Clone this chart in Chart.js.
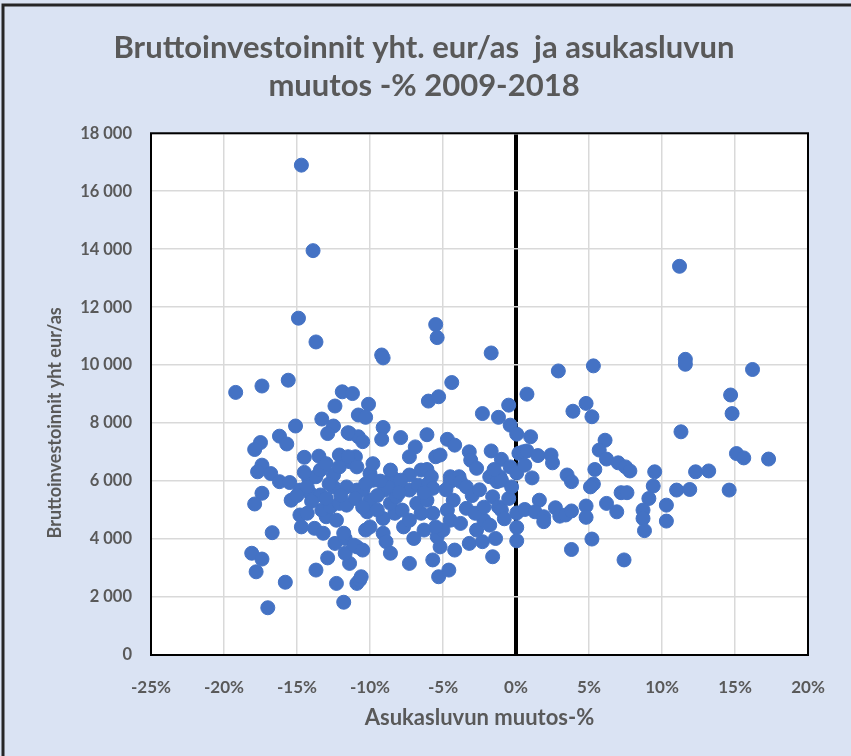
<!DOCTYPE html>
<html>
<head>
<meta charset="utf-8">
<title>Bruttoinvestoinnit</title>
<script src="https://cdn.jsdelivr.net/npm/chart.js@4.4.1/dist/chart.umd.min.js"></script>
<style>
  body { margin: 0; background: #DAE3F3; }
</style>
</head>
<body>
<canvas id="scatter" width="851" height="756"></canvas>
<script>
// asukasluvun muutos-% 2009-2018 (x) and bruttoinvestoinnit eur/as (y)
const muutos = [
  -14.7, -13.9, -13.7, -14.9, -19.2, -17.4, -15.6, -11.9, -11.2, -9.2, -9.1, -5.5, -5.4, -1.7, -4.4,
  -6.0, -5.3, -10.1, -10.8, -10.3, -2.3, -0.5, -1.2, -0.4, 0.05, -9.1, -9.2, -7.9, -6.1, -4.7,
  -4.2, -6.9, -7.3, -5.5, -5.2, -3.2, -3.1, -2.7, -1.7, -1.0, -0.4, 0.2, -11.4, -10.8, -10.5,
  -11.0, -11.4, -10.0, -8.5, -7.3, -6.5, -6.1, -5.8, -4.5, -3.9, -1.8, -1.1,
  -12.4, -13.3, -12.5, -12.9, -11.5, -15.1, -16.2, -15.7, -17.5, -17.9, -14.5, -13.5, -12.1, -11.5,
  -17.4, -17.7, -16.8, -16.2, -15.5, -14.2, -13.7, -13.4, -12.5, -12.1, -10.9,
  -17.4, -17.9, -15.4, -14.8, -14.3, -14.7, -16.7, -18.1, -17.4, -17.8, -15.8, -17.0, -13.7, -12.9,
  -12.3, -11.8, -11.4, -10.9, -12.4, -11.7, -11.7, -10.9, -13.8, -13.2, -13.0, -12.3, -13.3, -12.7,
  -12.1, -11.6, -14.1, -13.4, -14.8, -14.3, -11.6, -10.9, -12.5, -11.8,
  -1.3, -1.0, -4.5, -3.8, -3.4, -1.6, -1.2, -1.0, 0.05, 0.05, 0.05, -1.6, -3.2, -2.3, -1.4,
  -2.7, -2.2, -1.8, -3.4, -2.8, -4.3, -4.7, -4.5, -3.8, -4.2, -5.2, -5.7, -5.3, -4.6, -5.4,
  -5.0, -6.3, -5.5, -5.7, -6.5, -7.0, -7.3, -6.8, -6.1, -7.3, -6.7, -6.0, -5.7, -7.7, -7.3,
  -9.1, -8.9, -8.6, -8.3, -9.1, -8.6, -8.2, -9.0, -10.2, -10.0, -10.5, -9.8, -10.3, -10.0, -11.1,
  -10.5, -10.7, -10.6, -8.4, -7.9, -8.6,
  -14.0, -13.0, -12.0, -11.0, -10.5, -9.5, -9.5, -8.8, -9.3, -10.3, -12.8, -15.0, -14.5, -13.0,
  -9.8, -8.0, -7.8, -6.3, -4.8, -3.0, -2.2, -2.5, -0.8, -0.5, -1.5, -0.3,
  11.2, 2.9, 5.3, 11.6, 11.6, 16.2, 0.75, 3.9, 4.8, 5.2, 14.7, 14.8, 11.3, 1.0, 6.1,
  5.7, 6.2, 7.0, 7.5, 7.8, 9.5, 12.3, 13.2, 15.1, 15.6, 17.3, 0.5, 0.75, 1.5, 2.4,
  2.5, 0.05, 0.6, 1.1, 3.5, 3.8, 5.4, 5.3, 5.1, 7.2, 7.6, 9.4, 9.1, 11.0, 11.9,
  14.6, 1.6, 0.6, 1.3, 1.9, 1.9, 2.7, 3.0, 3.4, 3.8, 4.8, 4.8, 6.2, 6.9, 8.7,
  8.7, 8.8, 10.3, 10.3, 5.2, 3.8, 7.4
];
const investoinnit = [
  16900, 13950, 10800, 11620, 9060, 9280, 9480, 9080, 9020, 10350, 10250, 11400, 10950, 10420, 9400,
  8760, 8910, 8650, 8280, 8200, 8330, 8620, 8200, 7930, 7620, 7850, 7440, 7500, 7600, 7440,
  7240, 7180, 6840, 6840, 6900, 7010, 6720, 6440, 7040, 6750, 6490, 6960, 7640, 7530, 7360,
  6840, 6670, 6260, 6150, 6210, 6380, 6400, 6150, 6150, 6150, 6150, 6150,
  8590, 8140, 7900, 7640, 7670, 7900, 7550, 7280, 7330, 7090, 6820, 6860, 6900, 6840,
  6550, 6320, 6260, 5980, 5950, 6090, 6150, 6380, 6210, 6490, 6490,
  5580, 5210, 5340, 4830, 4890, 4420, 4220, 3510, 3310, 2870, 2510, 1630, 2930, 3350,
  2470, 1820, 3160, 2470, 3850, 4020, 3510, 3730, 4370, 4200, 4770, 4650, 5000, 5110,
  5230, 5170, 5580, 5520, 5690, 5800, 5800, 5690, 5800, 4200,
  5980, 6030, 5980, 5980, 5800, 5460, 5110, 5000, 4900, 4400, 3940, 3390, 3850, 3910, 4020,
  4310, 4650, 4480, 5060, 4890, 5340, 5000, 4650, 4540, 3620, 3730, 3280, 2700, 2930, 4080,
  4310, 4310, 4420, 4890, 4890, 4020, 3160, 5230, 5340, 5690, 5860, 5920, 5750, 4420, 4650,
  4200, 3910, 3510, 4890, 4710, 5230, 5460, 5690, 4940, 5340, 5690, 6030, 4310, 4420, 3790,
  3620, 2590, 2700, 5920, 6030, 6380,
  5300, 5400, 5500, 5400, 5100, 5500, 5000, 5800, 6000, 5900, 5900, 5500, 6300, 6600,
  6600, 5600, 5000, 5600, 5700, 5500, 5100, 5700, 4700, 5400, 6400, 5800,
  13410, 9800, 9975, 10200, 10030, 9850, 9000, 8410, 8680, 8220, 8970, 8330, 7700, 7530, 7410,
  7070, 6760, 6630, 6490, 6350, 6320, 6320, 6350, 6950, 6800, 6760, 7010, 7040, 6880, 6900,
  6630, 6280, 6550, 6110, 6210, 5980, 6400, 5900, 5800, 5600, 5600, 5830, 5400, 5690, 5710,
  5690, 5340, 5020, 4940, 4770, 4600, 5080, 4790, 4830, 4970, 5140, 4750, 5230, 4940, 5000,
  4710, 4290, 5170, 4620, 4000, 3640, 3280
];
const yTicks = [0, 2000, 4000, 6000, 8000, 10000, 12000, 14000, 16000, 18000];
const yTitle = 'Bruttoinvestoinnit yht eur/as';

const points = muutos.map((x, i) => ({ x: x, y: investoinnit[i] }));

const grey = '#595959';
const fontFamily = "Lato, 'Open Sans', sans-serif";

const frame = {
  id: 'frame',
  beforeDraw(chart) {
    const c = chart.ctx, a = chart.chartArea;
    c.save();
    c.fillStyle = '#DAE3F3';
    c.fillRect(0, 0, chart.width, chart.height);
    c.fillStyle = '#ffffff';
    c.fillRect(a.left, a.top, a.right - a.left, a.bottom - a.top);
    c.restore();
  },
  afterDatasetsDraw(chart) {
    const c = chart.ctx, a = chart.chartArea;
    c.save();
    c.strokeStyle = '#000';
    c.lineWidth = 2;
    c.strokeRect(a.left, a.top, a.right - a.left, a.bottom - a.top);
    c.strokeStyle = '#262626';
    c.lineWidth = 3;
    c.beginPath();
    c.moveTo(3, 756);
    c.lineTo(3, 5);
    c.lineTo(851, 5);
    c.stroke();
    // y axis title, Excel puts it a little below the middle of the plot
    c.translate(55, a.top + (a.bottom - a.top) * 0.555);
    c.rotate(-Math.PI / 2);
    c.fillStyle = grey;
    c.font = "bold 18px " + fontFamily;
    c.textAlign = 'center';
    c.textBaseline = 'middle';
    c.fillText(yTitle, 0, 0);
    c.restore();
  }
};

new Chart(document.getElementById('scatter'), {
  type: 'scatter',
  data: {
    datasets: [{
      label: 'Kunnat',
      data: points,
      backgroundColor: '#4472C4',
      borderColor: '#4472C4',
      pointRadius: 7,
      pointHoverRadius: 7
    }]
  },
  options: {
    responsive: false,
    animation: false,
    layout: { padding: { left: 40, right: 43, top: 10, bottom: 21 } },
    plugins: {
      legend: { display: false },
      tooltip: { enabled: false },
      title: {
        display: true,
        text: ['Bruttoinvestoinnit yht. eur/as  ja asukasluvun', 'muutos -% 2009-2018'],
        color: grey,
        font: { family: fontFamily, size: 31, weight: 'bold', lineHeight: 1.23 },
        padding: { top: 19, bottom: 28 }
      }
    },
    scales: {
      x: {
        type: 'linear',
        min: -25,
        max: 20,
        afterFit: (scale) => { scale.height = 80; },
        ticks: {
          stepSize: 5,
          padding: 22,
          color: grey,
          font: { family: fontFamily, size: 17, weight: 'bold' },
          callback: (v) => v + '%'
        },
        grid: {
          drawTicks: false,
          color: (ctx) => ctx.tick && ctx.tick.value === 0 ? '#000' : '#D9D9D9',
          lineWidth: (ctx) => ctx.tick && ctx.tick.value === 0 ? 4 : 1.5
        },
        border: { display: false },
        title: {
          display: true,
          text: 'Asukasluvun muutos-%',
          color: grey,
          font: { family: fontFamily, size: 22, weight: 'bold' }
        }
      },
      y: {
        min: 0,
        max: 18000,
        afterBuildTicks: (scale) => { scale.ticks = yTicks.map((v) => ({ value: v })); },
        afterFit: (scale) => { scale.width = 111; },
        ticks: {
          padding: 19,
          color: grey,
          font: { family: fontFamily, size: 16.5, weight: 'bold' },
          callback: (v) => v.toLocaleString('fi-FI').replace(/\s/g, ' ')
        },
        grid: { drawTicks: false, color: '#D9D9D9', lineWidth: 1.5 },
        border: { display: false }
      }
    }
  },
  plugins: [frame]
});
</script>
</body>
</html>
